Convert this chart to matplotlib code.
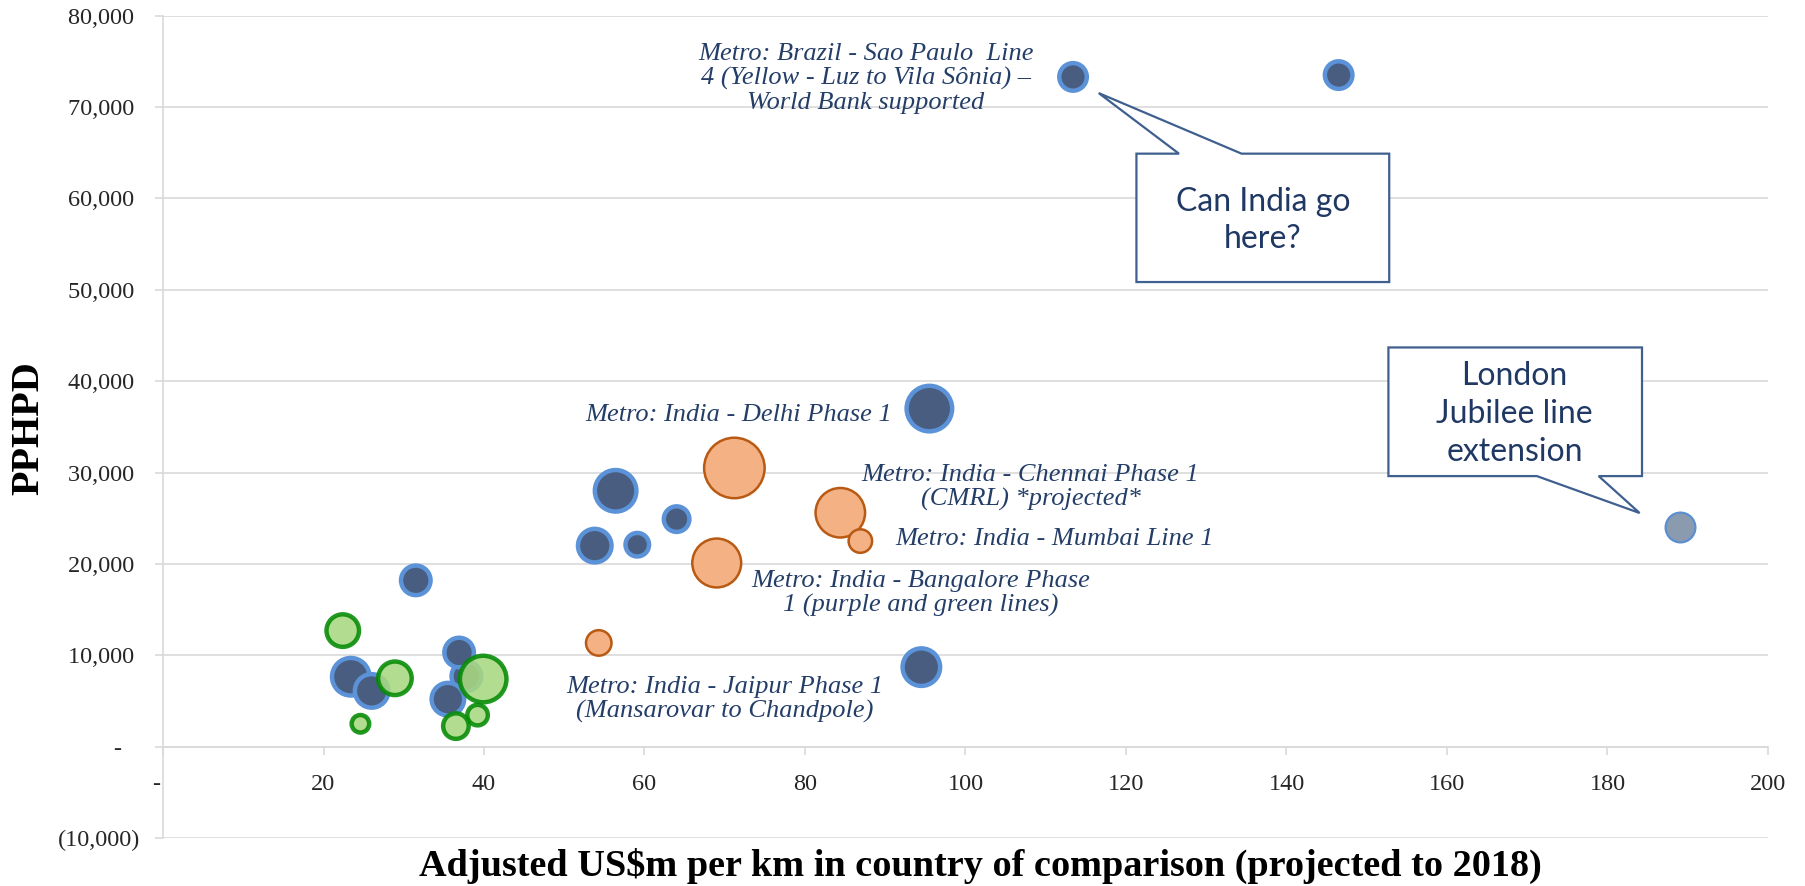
import numpy as np
import matplotlib.pyplot as plt
from matplotlib.patches import Polygon
from matplotlib.ticker import FuncFormatter

# blue bubbles: metros outside India
world_x = [113.4, 146.5, 95.5, 56.4, 64.0, 53.8, 59.1, 94.5, 31.5, 23.4, 26.0, 37.8, 36.9, 35.5]
world_y = [73300, 73500, 37000, 28000, 24900, 22000, 22100, 8700, 18200, 7650, 6100, 7700, 10300, 5200]
world_size = [256, 256, 625, 529, 225, 361, 196, 441, 289, 441, 361, 289, 289, 342]

# London Jubilee line extension
london_x = [189.0]
london_y = [24000]
london_size = [256]

# orange bubbles: Indian metros
india_x = [71.2, 84.4, 86.9, 69.0, 54.3]
india_y = [30500, 25600, 22500, 20100, 11350]
india_size = [992, 676, 169, 660, 196]

# green bubbles
other_x = [22.4, 28.9, 24.6, 39.9, 39.2, 36.5]
other_y = [12700, 7480, 2500, 7400, 3450, 2250]
other_size = [342, 361, 121, 650, 156, 225]

x_ticks = list(range(0, 201, 20))
y_ticks = list(range(-10000, 80001, 10000))

DPI = 100
fig = plt.figure(figsize=(18.06, 8.86), dpi=DPI)
ax = fig.add_axes([163 / 1806, 1 - 838 / 886, (1768 - 163) / 1806, (838 - 15.7) / 886])

grid_c = '#D9D9D9'
label_c = '#243E68'


def marker_area(size, lw_pt):
    # bubble value ~ outer radius^2 in pixels
    d_px = 2 * np.sqrt(np.array(size, dtype=float)) - lw_pt * DPI / 72
    return (d_px * 72 / DPI) ** 2


def bubbles(x, y, size, fill, edge, lw, alpha=1.0):
    ax.scatter(x, y, s=marker_area(size, lw), facecolors=fill, edgecolors=edge,
               linewidths=lw, alpha=alpha, zorder=3, clip_on=False)


bubbles(world_x, world_y, world_size, '#485D80', '#5B92D8', 3.2)
bubbles(london_x, london_y, london_size, '#8A9BAF', '#5B8FD0', 1.6)
bubbles(india_x, india_y, india_size, '#F4B183', '#B85A14', 1.8)
bubbles(other_x, other_y, other_size, '#A8D880', '#048A04', 3.2, alpha=0.88)

ax.set_xlim(0, 200)
ax.set_ylim(-10000, 80000)
ax.set_xticks(x_ticks)
ax.set_yticks(y_ticks)


def yfmt(v, pos):
    if v == 0:
        return '-   '
    if v < 0:
        return f'({-v:,.0f})'
    return f'{v:,.0f} '


ax.yaxis.set_major_formatter(FuncFormatter(yfmt))
ax.xaxis.set_major_formatter(FuncFormatter(lambda v, p: '-  ' if v == 0 else f'{v:.0f}'))

ax.grid(axis='y', color=grid_c, lw=1.2, zorder=0)
ax.set_axisbelow(True)
for s in ['top', 'right']:
    ax.spines[s].set_visible(False)
ax.spines['left'].set_color(grid_c)
ax.spines['left'].set_linewidth(1.2)
ax.spines['bottom'].set_position(('data', 0))
ax.spines['bottom'].set_color(grid_c)
ax.spines['bottom'].set_linewidth(1.2)

ax.tick_params(axis='both', direction='out', length=6, width=1.2, color=grid_c,
               labelcolor='#262626', labelsize=17.5)
ax.tick_params(axis='y', pad=10.5)
ax.tick_params(axis='x', pad=14)
for t in ax.get_xticklabels() + ax.get_yticklabels():
    t.set_fontfamily('Liberation Serif')

fig.text(29 / 1806, 1 - 428 / 886, 'PPHPD', rotation=90, ha='center', va='center',
         fontsize=29, fontweight='bold', family='Liberation Serif')
fig.text(980 / 1806, 1 - 866 / 886,
         'Adjusted US$m per km in country of comparison (projected to 2018)',
         ha='center', va='center', fontsize=27.5, fontweight='bold', family='Liberation Serif')

lab = dict(style='italic', fontsize=19, color=label_c, family='Liberation Serif',
           linespacing=1.12, zorder=4)
ax.text(87.6, 73100, 'Metro: Brazil - Sao Paulo  Line\n4 (Yellow - Luz to Vila Sônia) –\nWorld Bank supported',
        ha='center', va='center', **lab)
ax.text(90.8, 36300, 'Metro: India - Delhi Phase 1', ha='right', va='center', **lab)
ax.text(108.1, 28330, 'Metro: India - Chennai Phase 1\n(CMRL) *projected*', ha='center', va='center', **lab)
ax.text(91.3, 22740, 'Metro: India - Mumbai Line 1', ha='left', va='center', **lab)
ax.text(94.4, 16760, 'Metro: India - Bangalore Phase\n1 (purple and green lines)', ha='center', va='center', **lab)
ax.text(70.0, 5200, 'Metro: India - Jaipur Phase 1\n(Mansarovar to Chandpole)', ha='center', va='center', **lab)

# callout boxes
box_c = '#3F5F8F'
call1 = [(121.3, 64900), (126.6, 64900), (116.6, 71530), (134.4, 64900), (152.8, 64900),
         (152.8, 50850), (121.3, 50850)]
call2 = [(152.7, 43690), (184.3, 43690), (184.3, 29610), (178.9, 29610), (184.0, 25570),
         (171.2, 29610), (152.7, 29610)]
for pts in (call1, call2):
    ax.add_patch(Polygon(pts, closed=True, facecolor='white', edgecolor=box_c, lw=1.6,
                         zorder=5, clip_on=False, joinstyle='miter'))

call_txt = dict(ha='center', va='center', fontsize=23, color='#1F3864', family='Lato',
                linespacing=1.32, zorder=6)
ax.text(137.05, 57600, 'Can India go\nhere?', **call_txt)
ax.text(168.4, 36400, 'London\nJubilee line\nextension', **call_txt)

fig.savefig('out.png', dpi=DPI)
